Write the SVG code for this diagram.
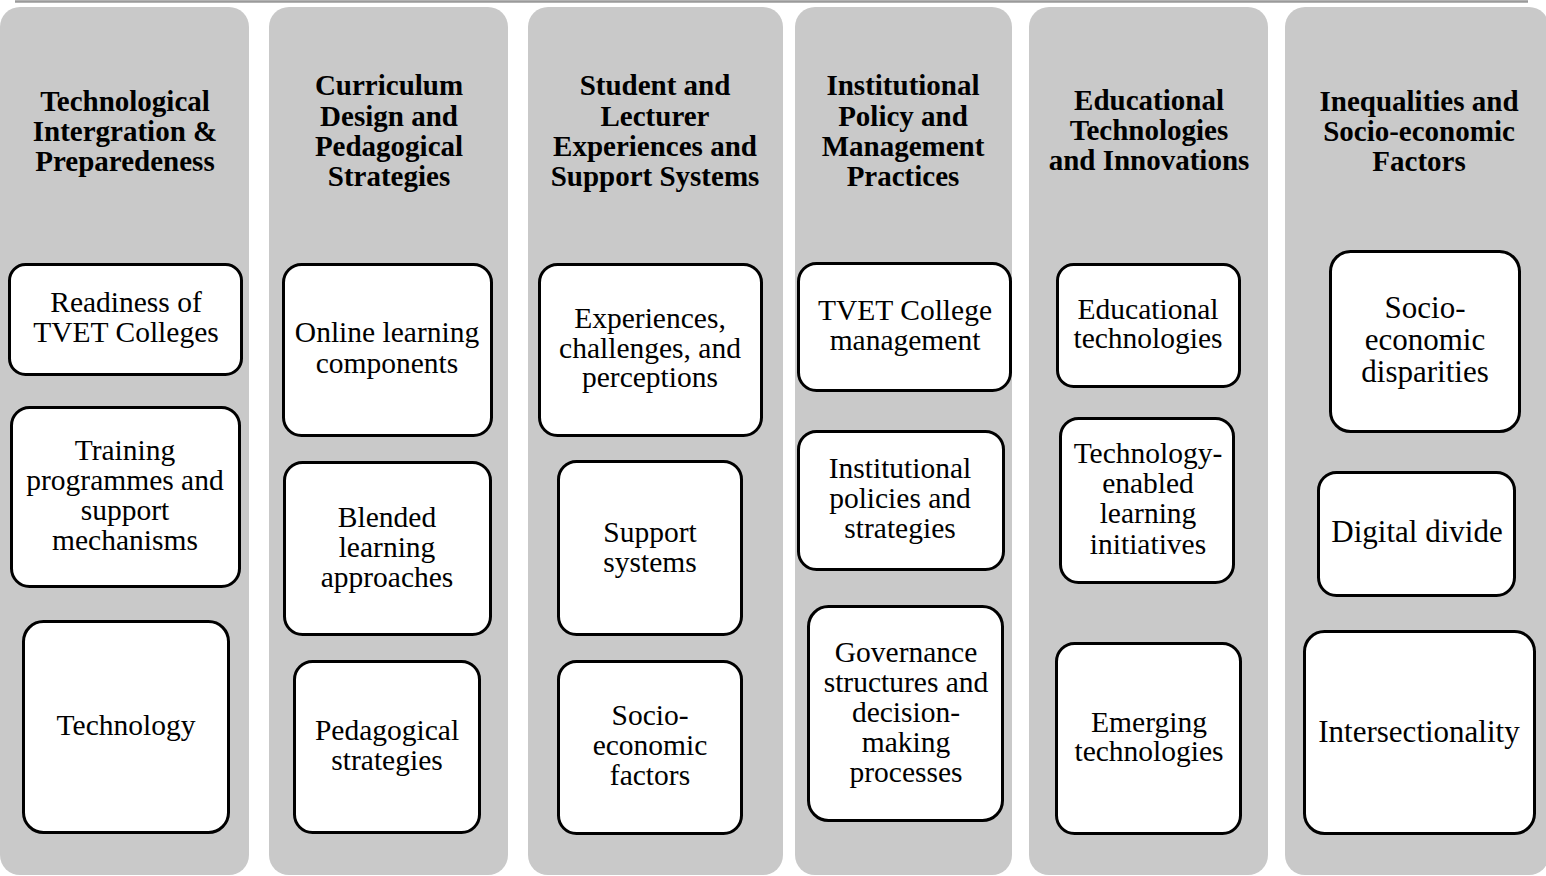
<svg xmlns="http://www.w3.org/2000/svg" width="1546" height="876" viewBox="0 0 1546 876">
<style>
.col{fill:#c9c9c9;}
.box{fill:#ffffff;stroke:#000000;stroke-width:3;}
.title{font-family:"Liberation Serif","Times New Roman",serif;font-weight:bold;font-size:29px;fill:#000;text-anchor:middle;}
.lbl{font-family:"Liberation Serif","Times New Roman",serif;font-size:29.5px;fill:#000;text-anchor:middle;}
.lbl6{font-family:"Liberation Serif","Times New Roman",serif;font-size:31px;fill:#000;text-anchor:middle;}
</style>
<rect width="1546" height="876" fill="#ffffff"/>
<line x1="15" y1="1.5" x2="1528" y2="1.5" stroke="#9a9a9a" stroke-width="2.5"/>

<g id="columns">
<g id="col1"><rect class="col" x="0" y="7" width="249" height="868" rx="20"/>
<text class="title" x="125"><tspan x="125" y="111">Technological</tspan><tspan x="125" y="141">Intergration &amp;</tspan><tspan x="125" y="171">Preparedeness</tspan></text></g>
<g id="col2"><rect class="col" x="269" y="7" width="239" height="868" rx="20"/>
<text class="title"><tspan x="389" y="95">Curriculum</tspan><tspan x="389" y="126">Design and</tspan><tspan x="389" y="156">Pedagogical</tspan><tspan x="389" y="186">Strategies</tspan></text></g>
<g id="col3"><rect class="col" x="528" y="7" width="255" height="868" rx="20"/>
<text class="title"><tspan x="655" y="95">Student and</tspan><tspan x="655" y="126">Lecturer</tspan><tspan x="655" y="156">Experiences and</tspan><tspan x="655" y="186">Support Systems</tspan></text></g>
<g id="col4"><rect class="col" x="795" y="7" width="217" height="868" rx="20"/>
<text class="title"><tspan x="903" y="95">Institutional</tspan><tspan x="903" y="126">Policy and</tspan><tspan x="903" y="156">Management</tspan><tspan x="903" y="186">Practices</tspan></text></g>
<g id="col5"><rect class="col" x="1029" y="7" width="239" height="868" rx="20"/>
<text class="title"><tspan x="1149" y="110">Educational</tspan><tspan x="1149" y="140">Technologies</tspan><tspan x="1149" y="170">and Innovations</tspan></text></g>
<g id="col6"><rect class="col" x="1285" y="7" width="264" height="868" rx="20"/>
<text class="title"><tspan x="1419" y="111">Inequalities and</tspan><tspan x="1419" y="141">Socio-economic</tspan><tspan x="1419" y="171">Factors</tspan></text></g>
</g>

<g id="connectors"></g>

<g id="n-readiness"><rect class="box" x="9.5" y="264.5" width="232" height="110" rx="16"/>
<text class="lbl"><tspan x="126" y="312">Readiness of</tspan><tspan x="126" y="342">TVET Colleges</tspan></text></g>
<g id="n-training"><rect class="box" x="11.5" y="407.5" width="228" height="179" rx="18"/>
<text class="lbl"><tspan x="125" y="460">Training</tspan><tspan x="125" y="490">programmes and</tspan><tspan x="125" y="520">support</tspan><tspan x="125" y="550">mechanisms</tspan></text></g>
<g id="n-technology"><rect class="box" x="23.5" y="621.5" width="205" height="211" rx="20"/>
<text class="lbl" x="126" y="735">Technology</text></g>

<g id="n-online"><rect class="box" x="283.5" y="264.5" width="208" height="171" rx="18"/>
<text class="lbl"><tspan x="387" y="342">Online learning</tspan><tspan x="387" y="373">components</tspan></text></g>
<g id="n-blended"><rect class="box" x="284.5" y="462.5" width="206" height="172" rx="18"/>
<text class="lbl"><tspan x="387" y="527">Blended</tspan><tspan x="387" y="557">learning</tspan><tspan x="387" y="587">approaches</tspan></text></g>
<g id="n-pedagogical"><rect class="box" x="294.5" y="661.5" width="185" height="171" rx="18"/>
<text class="lbl"><tspan x="387" y="740">Pedagogical</tspan><tspan x="387" y="770">strategies</tspan></text></g>

<g id="n-experiences"><rect class="box" x="539.5" y="264.5" width="222" height="171" rx="18"/>
<text class="lbl"><tspan x="650" y="328">Experiences,</tspan><tspan x="650" y="358">challenges, and</tspan><tspan x="650" y="387">perceptions</tspan></text></g>
<g id="n-support"><rect class="box" x="558.5" y="461.5" width="183" height="173" rx="18"/>
<text class="lbl"><tspan x="650" y="542">Support</tspan><tspan x="650" y="572">systems</tspan></text></g>
<g id="n-socio-factors"><rect class="box" x="558.5" y="661.5" width="183" height="172" rx="18"/>
<text class="lbl"><tspan x="650" y="725">Socio-</tspan><tspan x="650" y="755">economic</tspan><tspan x="650" y="785">factors</tspan></text></g>

<g id="n-tvet-mgmt"><rect class="box" x="798.5" y="263.5" width="212" height="127" rx="18"/>
<text class="lbl"><tspan x="905" y="320">TVET College</tspan><tspan x="905" y="350">management</tspan></text></g>
<g id="n-policies"><rect class="box" x="798.5" y="431.5" width="205" height="138" rx="18"/>
<text class="lbl"><tspan x="900" y="478">Institutional</tspan><tspan x="900" y="508">policies and</tspan><tspan x="900" y="538">strategies</tspan></text></g>
<g id="n-governance"><rect class="box" x="808.5" y="606.5" width="194" height="214" rx="20"/>
<text class="lbl"><tspan x="906" y="662">Governance</tspan><tspan x="906" y="692">structures and</tspan><tspan x="906" y="722">decision-</tspan><tspan x="906" y="752">making</tspan><tspan x="906" y="782">processes</tspan></text></g>

<g id="n-edtech"><rect class="box" x="1057.5" y="264.5" width="182" height="122" rx="16"/>
<text class="lbl"><tspan x="1148" y="319">Educational</tspan><tspan x="1148" y="348">technologies</tspan></text></g>
<g id="n-tel"><rect class="box" x="1060.5" y="418.5" width="173" height="164" rx="18"/>
<text class="lbl"><tspan x="1148" y="463">Technology-</tspan><tspan x="1148" y="493">enabled</tspan><tspan x="1148" y="523">learning</tspan><tspan x="1148" y="554">initiatives</tspan></text></g>
<g id="n-emerging"><rect class="box" x="1056.5" y="643.5" width="184" height="190" rx="18"/>
<text class="lbl"><tspan x="1149" y="732">Emerging</tspan><tspan x="1149" y="761">technologies</tspan></text></g>

<g id="n-disparities"><rect class="box" x="1330.5" y="251.5" width="189" height="180" rx="20"/>
<text class="lbl6"><tspan x="1425" y="318">Socio-</tspan><tspan x="1425" y="350">economic</tspan><tspan x="1425" y="382">disparities</tspan></text></g>
<g id="n-digital"><rect class="box" x="1318.5" y="472.5" width="196" height="123" rx="18"/>
<text class="lbl6" x="1417" y="542">Digital divide</text></g>
<g id="n-intersect"><rect class="box" x="1304.5" y="631.5" width="230" height="202" rx="20"/>
<text class="lbl6" x="1419" y="742">Intersectionality</text></g>
</svg>
